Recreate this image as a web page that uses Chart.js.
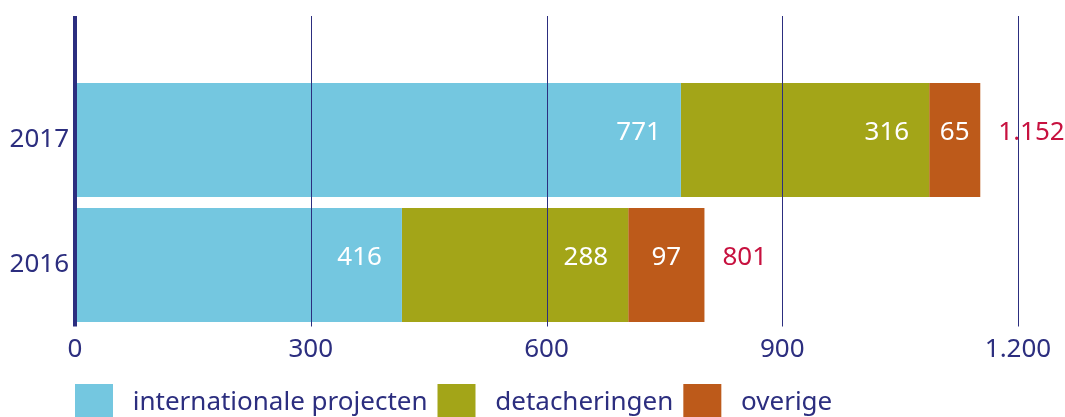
<!DOCTYPE html>
<html>
<head>
<meta charset="utf-8">
<script src="https://cdn.jsdelivr.net/npm/chart.js@4/dist/chart.umd.min.js"></script>
<style>
  html, body { margin: 0; padding: 0; background: #fff; overflow: hidden; }
  #wrap { position: relative; width: 1065px; height: 432px; }
</style>
</head>
<body>
<div id="wrap"><canvas id="myChart"></canvas></div>
<script>
// data
const years = ['2017', '2016'];
const internationaleProjecten = [771, 416];
const detacheringen = [316, 288];
const overige = [65, 97];
const totals = [1152, 801];
const xTicks = [0, 300, 600, 900, 1200];

const navy = '#2c2e7f';
const totalColor = '#c7113f';
const fontFamily = '"Noto Sans", "Open Sans", sans-serif';

// dutch thousands separator: 1152 -> 1.152
function nl(v) {
    return String(v).replace(/\B(?=(\d{3})+(?!\d))/g, '.');
}

// grid lines drawn on top of the bars, from above the plot area down
const overlay = {
    id: 'overlay',
    beforeDraw(chart) {
        // legend starts under the value axis, not at the canvas edge
        chart.legend.left = chart.chartArea.left - chart.legend.options.labels.padding;
    },
    afterDatasetsDraw(chart) {
        const ctx = chart.ctx;
        const x = chart.scales.x;
        const area = chart.chartArea;
        ctx.save();
        ctx.strokeStyle = navy;
        xTicks.forEach(v => {
            const px = Math.round(x.getPixelForValue(v));
            ctx.lineWidth = v === 0 ? 4 : 1;
            ctx.beginPath();
            ctx.moveTo(v === 0 ? px : px + 0.5, 16);
            ctx.lineTo(v === 0 ? px : px + 0.5, area.bottom - 1);
            ctx.stroke();
        });

        // value labels
        ctx.font = '26px ' + fontFamily;
        ctx.textBaseline = 'middle';
        for (let d = 0; d < 3; d++) {
            const meta = chart.getDatasetMeta(d);
            const values = chart.data.datasets[d].data;
            meta.data.forEach((bar, i) => {
                ctx.fillStyle = '#ffffff';
                if (d === 2) {
                    ctx.textAlign = 'center';
                    ctx.fillText(nl(values[i]), (bar.x + bar.base) / 2, bar.y - 7);
                } else {
                    ctx.textAlign = 'right';
                    ctx.fillText(nl(values[i]), bar.x - 20, bar.y - 7);
                }
            });
        }
        const last = chart.getDatasetMeta(2);
        last.data.forEach((bar, i) => {
            ctx.fillStyle = totalColor;
            ctx.textAlign = 'left';
            ctx.fillText(nl(totals[i]), bar.x + 18, bar.y - 7);
        });
        ctx.restore();
    }
};

const ctx = document.getElementById('myChart');
const myChart = new Chart(ctx, {
    type: 'bar',
    data: {
        labels: years,
        datasets: [
            {
                label: 'internationale projecten',
                data: internationaleProjecten,
                backgroundColor: '#74c7e0',
            },
            {
                label: 'detacheringen',
                data: detacheringen,
                backgroundColor: '#a3a518',
            },
            {
                label: 'overige',
                data: overige,
                backgroundColor: '#bd5a1a',
            },
        ]
    },
    options: {
        indexAxis: 'y',
        animation: false,
        responsive: true,
        maintainAspectRatio: false,
        datasets: {
            bar: {
                barPercentage: 0.912,
                categoryPercentage: 1,
                borderWidth: 0,
            }
        },
        layout: {
            padding: { top: 77.5, right: 47, left: 0, bottom: 0 }
        },
        plugins: {
            legend: {
                position: 'bottom',
                align: 'start',
                labels: {
                    boxWidth: 38,
                    boxHeight: 38,
                    padding: 10,
                    color: navy,
                    font: { family: fontFamily, size: 26 },
                    generateLabels: (chart) =>
                        Chart.defaults.plugins.legend.labels.generateLabels(chart)
                            .map(l => Object.assign(l, { text: ' ' + l.text })),
                }
            },
            tooltip: { enabled: false },
        },
        scales: {
            x: {
                stacked: true,
                min: 0,
                max: 1200,
                afterBuildTicks: (scale) => {
                    scale.ticks = xTicks.map(v => ({ value: v }));
                },
                afterFit: (scale) => { scale.height = 46.5; },
                grid: { display: false, drawTicks: false },
                border: { display: false },
                ticks: {
                    padding: 6,
                    color: navy,
                    font: { family: fontFamily, size: 26 },
                    callback: (v) => nl(v),
                }
            },
            y: {
                stacked: true,
                afterFit: (scale) => { scale.width = 75; },
                grid: { display: false, drawTicks: false },
                border: { display: false },
                ticks: {
                    padding: 6,
                    color: navy,
                    font: { family: fontFamily, size: 26 },
                }
            }
        }
    },
    plugins: [overlay]
});
</script>
</body>
</html>
